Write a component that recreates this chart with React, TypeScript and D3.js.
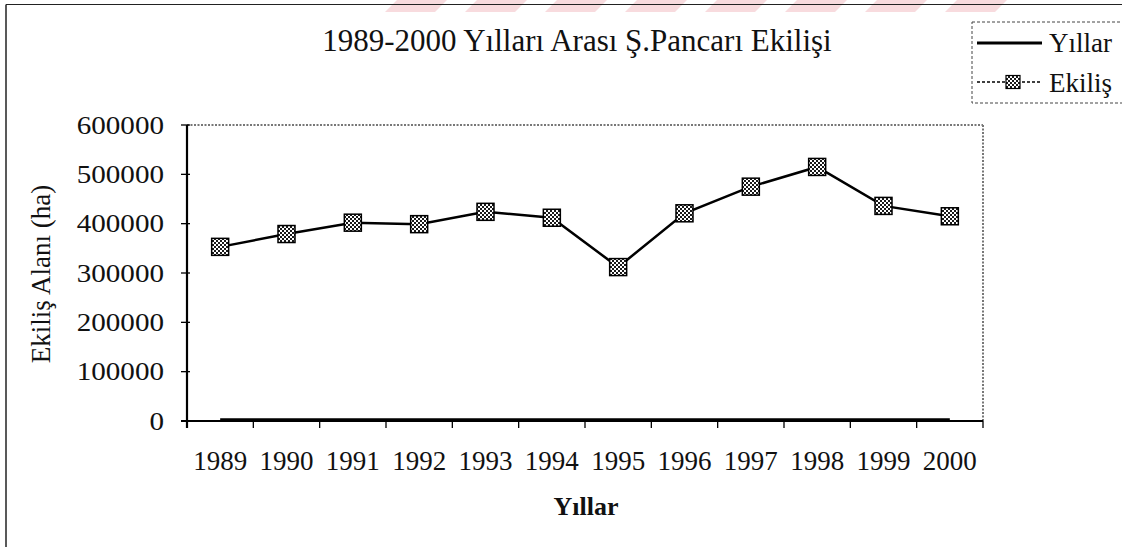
import React from "react";
import * as d3 from "d3";

const years = ["1989", "1990", "1991", "1992", "1993", "1994", "1995", "1996", "1997", "1998", "1999", "2000"];
const ekilisValues = [353000, 379000, 402000, 399000, 424000, 412000, 312000, 421000, 475000, 515000, 436000, 415000];
const yillarValues = [1989, 1990, 1991, 1992, 1993, 1994, 1995, 1996, 1997, 1998, 1999, 2000];
const yTicks = [0, 100000, 200000, 300000, 400000, 500000, 600000];
const titleText = "1989-2000 Yılları Arası Ş.Pancarı Ekilişi";
const seriesNames = ["Yıllar", "Ekiliş"];
const xAxisTitle = "Yıllar";
const yAxisTitle = "Ekiliş Alanı (ha)";

const W = 1122;
const H = 547;
const plot = { left: 187, right: 983, top: 125, bottom: 421 };
const FONT = "'Liberation Serif', 'Times New Roman', serif";

export default function App() {
  const x = d3.scaleBand<string>().domain(years).range([plot.left, plot.right]).paddingInner(0).paddingOuter(0);
  const cx = (d: string) => (x(d) as number) + x.bandwidth() / 2;
  const y = d3.scaleLinear().domain([0, 600000]).range([plot.bottom, plot.top]);

  const line = d3
    .line<number>()
    .x((_, i) => cx(years[i]))
    .y((v) => y(v));

  const boundaries = years.map((d) => x(d) as number).concat([plot.right]);

  const watermark = [0, 1, 2, 3, 4, 5, 6, 7];

  return (
    <svg
      width={W}
      height={H}
      viewBox={`0 0 ${W} ${H}`}
      style={{ position: "absolute", left: 0, top: 0, background: "#fff" }}
      fontFamily={FONT}
    >
      <defs>
        <pattern id="hatch" width="4" height="4" patternUnits="userSpaceOnUse">
          <rect width="4" height="4" fill="#fff" />
          <rect width="2" height="2" fill="#1a1a1a" />
          <rect x="2" y="2" width="2" height="2" fill="#1a1a1a" />
        </pattern>
      </defs>
      <rect x={0} y={0} width={W} height={H} fill="#fff" />

      {/* faint watermark at the top */}
      <g fill="#f3b9bf" opacity={0.5}>
        {watermark.map((i) => {
          const x0 = 385 + i * 80;
          return <polygon key={i} points={`${x0 + 12},0 ${x0 + 62},0 ${x0 + 50},12 ${x0},12`} />;
        })}
      </g>

      {/* outer chart border */}
      <line x1={6} y1={4.5} x2={W} y2={4.5} stroke="#222" strokeWidth={1.2} />
      <line x1={6} y1={4.5} x2={6} y2={H} stroke="#222" strokeWidth={1.5} />

      {/* title */}
      <text x={577} y={51} textAnchor="middle" fontSize={31} fill="#111">
        {titleText}
      </text>

      {/* legend */}
      <rect x={972} y={22} width={170} height={81} fill="#fff" stroke="#444" strokeWidth={1} strokeDasharray="3,2" />
      <line x1={977} y1={43} x2={1042} y2={43} stroke="#000" strokeWidth={3} />
      <text x={1049} y={52} fontSize={27} fill="#111">
        {seriesNames[0]}
      </text>
      <line x1={977} y1={82} x2={1042} y2={82} stroke="#000" strokeWidth={1.5} strokeDasharray="3,2" />
      <rect x={1013 - 7} y={82 - 6.5} width={14} height={13} fill="url(#hatch)" stroke="#000" strokeWidth={1.2} />
      <text x={1049} y={92} fontSize={27} fill="#111">
        {seriesNames[1]}
      </text>

      {/* plot area border (dotted) */}
      <line x1={plot.left} y1={plot.top} x2={plot.right} y2={plot.top} stroke="#777" strokeWidth={2} strokeDasharray="2,1.5" />
      <line x1={plot.right} y1={plot.top} x2={plot.right} y2={plot.bottom} stroke="#777" strokeWidth={2} strokeDasharray="2,1.5" />

      {/* y axis */}
      <line x1={plot.left} y1={plot.top} x2={plot.left} y2={plot.bottom + 7} stroke="#000" strokeWidth={2.2} />
      {yTicks.map((t) => (
        <g key={t}>
          <line x1={plot.left - 6} y1={y(t)} x2={plot.left + 3} y2={y(t)} stroke="#000" strokeWidth={1.3} />
          <text
            transform={`translate(164,${y(t) + 8.5}) scale(1.12,1)`}
            textAnchor="end"
            fontSize={26}
            fill="#111"
          >
            {t}
          </text>
        </g>
      ))}

      {/* x axis */}
      <line x1={plot.left - 6} y1={plot.bottom} x2={plot.right} y2={plot.bottom} stroke="#000" strokeWidth={2} />
      {boundaries.map((b, i) => (
        <line key={i} x1={b} y1={plot.bottom} x2={b} y2={plot.bottom + 7} stroke="#000" strokeWidth={1.3} />
      ))}
      {years.map((d) => (
        <text key={d} x={cx(d)} y={470} textAnchor="middle" fontSize={27} fill="#111">
          {d}
        </text>
      ))}

      {/* axis titles */}
      <text x={586} y={515} textAnchor="middle" fontSize={26} fontWeight="bold" fill="#111">
        {xAxisTitle}
      </text>
      <text transform="translate(50,274) rotate(-90)" textAnchor="middle" fontSize={27} fill="#111">
        {yAxisTitle}
      </text>

      {/* series: Yıllar */}
      <path d={line(yillarValues) as string} fill="none" stroke="#000" strokeWidth={3.5} />

      {/* series: Ekiliş */}
      <path d={line(ekilisValues) as string} fill="none" stroke="#000" strokeWidth={2.5} />
      {ekilisValues.map((v, i) => (
        <rect
          key={years[i]}
          x={cx(years[i]) - 8.5}
          y={y(v) - 8.5}
          width={17}
          height={17}
          fill="url(#hatch)"
          stroke="#000"
          strokeWidth={1.5}
        />
      ))}
    </svg>
  );
}
